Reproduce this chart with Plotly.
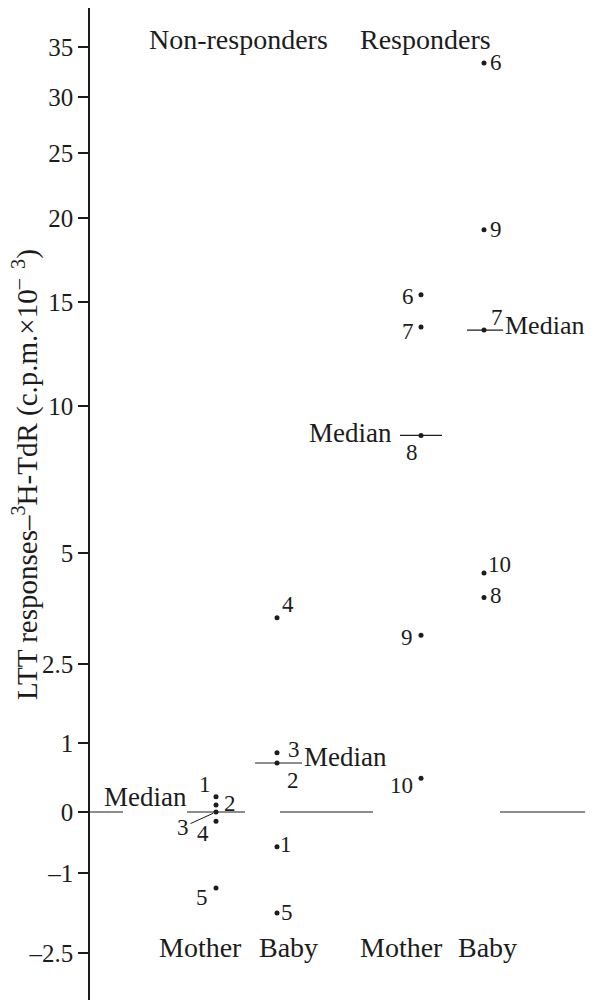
import numpy as np
import plotly.graph_objects as go

# ---- axis scale (non-linear printed scale) ----
TICK_VALUES = [-2.5, -1, 0, 1, 2.5, 5, 10, 15, 20, 25, 30, 35]
TICK_TEXT = ["\u20132.5", "\u20131", "0", "1", "2.5", "5", "10", "15", "20", "25", "30", "35"]
TICK_HEIGHT = [47, 127, 188, 257, 336, 447, 594, 698, 782, 847, 903, 953]


def scale(v):
    return np.interp(v, TICK_VALUES, TICK_HEIGHT)


# ---- data ----
NR_MOTHER_IDS = [1, 2, 3, 4, 5]
NR_MOTHER = [0.22, 0.10, 0.0, -0.15, -1.28]
NR_BABY_IDS = [1, 2, 3, 4, 5]
NR_BABY = [-0.57, 0.71, 0.86, 3.54, -1.75]
R_MOTHER_IDS = [6, 7, 8, 9, 10]
R_MOTHER = [15.43, 13.8, 9.0, 3.15, 0.49]
R_BABY_IDS = [6, 7, 8, 9, 10]
R_BABY = [33.4, 13.65, 4.0, 19.3, 4.55]

GROUP_HEADERS = ["Non-responders", "Responders"]
COLUMN_LABELS = ["Mother", "Baby", "Mother", "Baby"]

FONT = "Liberation Serif, Times New Roman, serif"
INK = "#1c1c1c"

# column x positions (pixel-like units)
COL_X = [216, 277, 421, 484]
# label offsets (xshift, yshift) per point
NR_MOTHER_OFF = [(-11, 12), (14, 2), None, (-13, -12), (-14, -10)]
NR_BABY_OFF = [(9, 2), (16, -17), (17, 3), (11, 13), (10, 1)]
R_MOTHER_OFF = [(-13, -2), (-13, -5), (-9, -17), (-14, -2), (-20, -7)]
R_BABY_OFF = [(12, 1), (13, 13), (12, 2), (12, 0), (15, 8)]

fig = go.Figure()
annotations = []
shapes = []

columns = [
    (NR_MOTHER_IDS, NR_MOTHER, NR_MOTHER_OFF),
    (NR_BABY_IDS, NR_BABY, NR_BABY_OFF),
    (R_MOTHER_IDS, R_MOTHER, R_MOTHER_OFF),
    (R_BABY_IDS, R_BABY, R_BABY_OFF),
]

for cx, (ids, vals, offs) in zip(COL_X, columns):
    ys = scale(vals)
    fig.add_trace(go.Scatter(
        x=[cx] * len(vals), y=ys, mode="markers",
        marker=dict(size=5, color=INK), showlegend=False, hoverinfo="skip"))
    for pid, yv, off in zip(ids, ys, offs):
        if off is None:
            # label with a pointer line
            annotations.append(dict(
                x=cx, y=yv, xref="x", yref="y", text=str(pid),
                showarrow=True, arrowhead=0, arrowwidth=1, arrowcolor=INK,
                ax=-33, ay=15, standoff=3,
                font=dict(family=FONT, size=23, color=INK)))
        else:
            annotations.append(dict(
                x=cx, y=yv, xref="x", yref="y", text=str(pid),
                showarrow=False, xshift=off[0], yshift=off[1],
                font=dict(family=FONT, size=23, color=INK)))

# medians
med = [np.median(NR_MOTHER), np.median(NR_BABY), np.median(R_MOTHER), np.median(R_BABY)]
median_segments = [
    [(90, 123), (187, 245)],
    [(255, 302)],
    [(400, 442)],
    [(467, 503)],
]
# (x, yshift, anchor, size)
median_text = [(145, 15, "center", 27), (345, 6, "center", 27),
               (350, 2, "center", 27), (503, 5, "left", 26)]
for m, segs, (tx, dy, anc, fs) in zip(med, median_segments, median_text):
    ym = float(scale(m))
    for x0, x1 in segs:
        shapes.append(dict(type="line", xref="x", yref="y", x0=x0, x1=x1, y0=ym, y1=ym,
                           line=dict(color=INK, width=1.2)))
    annotations.append(dict(x=tx, y=ym, xref="x", yref="y", text="Median", showarrow=False,
                            xanchor=anc, yshift=dy,
                            font=dict(family=FONT, size=fs, color=INK)))

# baseline segments at zero for baby columns
y0 = float(scale(0))
for x0, x1 in [(280, 373), (500, 585)]:
    shapes.append(dict(type="line", xref="x", yref="y", x0=x0, x1=x1, y0=y0, y1=y0,
                       line=dict(color=INK, width=1.2)))

# group headers
for txt, hx in zip(GROUP_HEADERS, [238, 425]):
    annotations.append(dict(x=hx, y=1000 - 39, xref="x", yref="y", text=txt, showarrow=False,
                            font=dict(family=FONT, size=28, color=INK)))
# column labels
for txt, lx in zip(COLUMN_LABELS, [200, 288, 401, 487]):
    annotations.append(dict(x=lx, y=1000 - 947, xref="x", yref="y", text=txt, showarrow=False,
                            font=dict(family=FONT, size=28, color=INK)))

# y-axis title
annotations.append(dict(
    x=(25 - 90) / 506, xref="paper", y=1000 - 475, yref="y",
    text="LTT responses\u2013<sup>3</sup>H-TdR (c.p.m.\u00d710<sup>\u2013  3</sup>)",
    textangle=-90, showarrow=False, xanchor="center", yanchor="middle",
    font=dict(family=FONT, size=29, color=INK)))

# page body has an 8px default margin, so the figure is 8px smaller
fig.update_layout(
    width=588, height=992, autosize=False,
    margin=dict(l=82, r=0, t=0, b=0),
    paper_bgcolor="white", plot_bgcolor="white",
    xaxis=dict(range=[90, 596], visible=False, fixedrange=True),
    yaxis=dict(range=[0, 992], showgrid=False, zeroline=False,
               showline=True, linecolor=INK, linewidth=1.5,
               ticks="outside", ticklen=10, tickwidth=1.5, tickcolor=INK,
               tickvals=list(scale(TICK_VALUES)), ticktext=TICK_TEXT,
               tickfont=dict(family=FONT, size=25, color=INK)),
    annotations=annotations, shapes=shapes,
)

fig.write_html("out.html")
